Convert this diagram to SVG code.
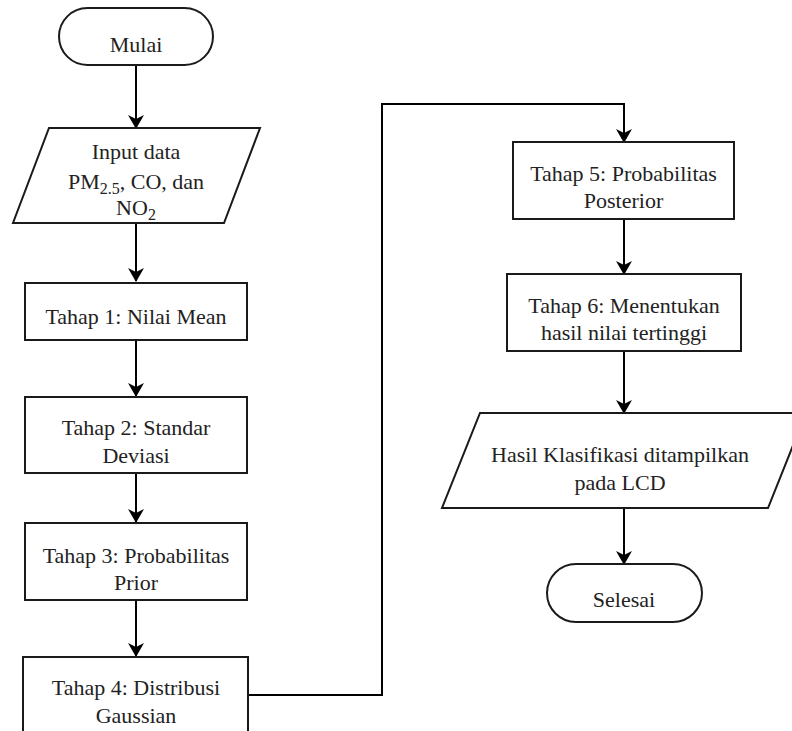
<svg xmlns="http://www.w3.org/2000/svg" width="792" height="731" viewBox="0 0 792 731">
  <style>
    .shape { fill: #ffffff; stroke: #1a1a1a; stroke-width: 2; }
    .conn { fill: none; stroke: #000000; stroke-width: 2; }
    .lbl { font-family: 'Liberation Serif', 'Times New Roman', serif; font-size: 22px; fill: #222222; text-anchor: middle; }
    .sub { font-size: 16px; }
  </style>
  <defs>
    <marker id="arr" viewBox="0 0 14 16" refX="13" refY="8" markerWidth="14" markerHeight="16" markerUnits="userSpaceOnUse" orient="auto">
      <path d="M0,0 L14,8 L0,16 L4,8 Z" fill="#000000"/>
    </marker>
  </defs>
  <rect width="792" height="731" fill="#ffffff"/>

  <g id="connectors">
    <line class="conn" x1="136" y1="65" x2="136" y2="128" marker-end="url(#arr)"/>
    <line class="conn" x1="136" y1="223" x2="136" y2="281" marker-end="url(#arr)"/>
    <line class="conn" x1="136" y1="340" x2="136" y2="396" marker-end="url(#arr)"/>
    <line class="conn" x1="136" y1="473" x2="136" y2="522" marker-end="url(#arr)"/>
    <line class="conn" x1="136" y1="600" x2="136" y2="656" marker-end="url(#arr)"/>
    <path class="conn" d="M248,695 H382 V104 H624 V142" marker-end="url(#arr)"/>
    <line class="conn" x1="624" y1="219" x2="624" y2="274" marker-end="url(#arr)"/>
    <line class="conn" x1="624" y1="351" x2="624" y2="413" marker-end="url(#arr)"/>
    <line class="conn" x1="624" y1="508" x2="624" y2="564" marker-end="url(#arr)"/>
  </g>

  <g id="mulai">
    <rect class="shape" x="59" y="8" width="154" height="57" rx="28.5" ry="28.5"/>
    <text class="lbl" x="136" y="52">Mulai</text>
  </g>

  <g id="input">
    <polygon class="shape" points="49,128 260,128 224,223 13,223"/>
    <text class="lbl" x="136" y="159">Input data</text>
    <text class="lbl" x="136" y="189">PM<tspan class="sub" dy="5">2.5</tspan><tspan dy="-5">, CO, dan</tspan></text>
    <text class="lbl" x="136" y="215">NO<tspan class="sub" dy="5">2</tspan></text>
  </g>

  <g id="tahap1">
    <rect class="shape" x="25" y="283" width="222" height="57"/>
    <text class="lbl" x="136" y="324">Tahap 1: Nilai Mean</text>
  </g>

  <g id="tahap2">
    <rect class="shape" x="25" y="397" width="222" height="76"/>
    <text class="lbl" x="136" y="435">Tahap 2: Standar</text>
    <text class="lbl" x="136" y="463">Deviasi</text>
  </g>

  <g id="tahap3">
    <rect class="shape" x="25" y="523" width="222" height="77"/>
    <text class="lbl" x="136" y="563">Tahap 3: Probabilitas</text>
    <text class="lbl" x="136" y="590">Prior</text>
  </g>

  <g id="tahap4">
    <rect class="shape" x="23" y="657" width="225" height="90"/>
    <text class="lbl" x="136" y="695">Tahap 4: Distribusi</text>
    <text class="lbl" x="136" y="723">Gaussian</text>
  </g>

  <g id="tahap5">
    <rect class="shape" x="513" y="142" width="221" height="77"/>
    <text class="lbl" x="623.5" y="181">Tahap 5: Probabilitas</text>
    <text class="lbl" x="623.5" y="208">Posterior</text>
  </g>

  <g id="tahap6">
    <rect class="shape" x="507" y="274" width="234" height="77"/>
    <text class="lbl" x="624" y="313">Tahap 6: Menentukan</text>
    <text class="lbl" x="624" y="340">hasil nilai tertinggi</text>
  </g>

  <g id="output">
    <polygon class="shape" points="480,413 806,413 768,508 442,508"/>
    <text class="lbl" x="620" y="462">Hasil Klasifikasi ditampilkan</text>
    <text class="lbl" x="620" y="490">pada LCD</text>
  </g>

  <g id="selesai">
    <rect class="shape" x="547" y="564" width="155" height="58" rx="29" ry="29"/>
    <text class="lbl" x="624" y="607">Selesai</text>
  </g>
</svg>
